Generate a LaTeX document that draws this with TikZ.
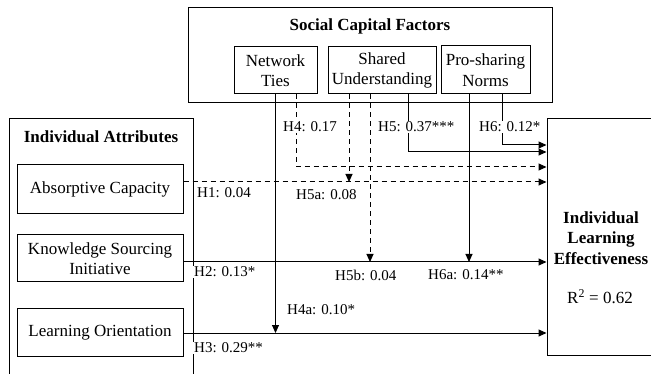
\documentclass[tikz,border=0pt]{standalone}
\usepackage{fontspec}
\setmainfont{Liberation Serif}
\usetikzlibrary{arrows.meta}
\newcommand\bodyfont{\fontsize{17}{20.5}\selectfont}
\newcommand\labfont{\fontsize{15}{18}\selectfont}
\tikzset{
  >={Triangle[length=8pt,width=7pt]},
  bx/.style={draw, line width=1pt, inner sep=0pt, align=center, font=\bodyfont},
  ttl/.style={inner sep=0pt, align=center, font=\bodyfont\bfseries},
  sol/.style={line width=1pt},
  dsh/.style={line width=1pt, dash pattern=on 5pt off 4pt},
  lab/.style={anchor=west, fill=white, inner sep=1pt, font=\labfont}
}
\begin{document}
\begin{tikzpicture}[x=1pt,y=-1pt]
\useasboundingbox (0,0) rectangle (651,374);
\clip (0,0) rectangle (651,374);
\fill[white] (0,0) rectangle (651,374);
% Social capital group
\node[bx, minimum width=364pt, minimum height=95pt] (sc) at (370,55.5) {};
\node[ttl] (sct) at (370,26) {Social Capital Factors};
\node[bx, minimum width=83pt, minimum height=47pt] (nt) at (275.5,70.5) {Network\\Ties};
\node[bx, minimum width=108pt, minimum height=47pt] (su) at (382,70.5) {Shared\\Understanding};
\node[bx, minimum width=89pt, minimum height=48pt] (ps) at (485.5,70) {Pro-sharing\\Norms};
% Individual attributes group
\node[bx, minimum width=184pt, minimum height=301pt] (ia) at (101,269.5) {};
\node[ttl] (iat) at (101,137) {Individual Attributes};
\node[bx, minimum width=166pt, minimum height=49pt] (ac) at (100,189.5) {Absorptive Capacity};
\node[bx, minimum width=166pt, minimum height=47pt] (ks) at (100,258.5) {Knowledge Sourcing\\Initiative};
\node[bx, minimum width=166pt, minimum height=47pt] (lo) at (100,332.5) {Learning Orientation};
% Outcome
\node[bx, minimum width=109pt, minimum height=236pt] (ile) at (601.5,237) {};
\node[ttl] (ilet) at (601,238) {Individual\\Learning\\Effectiveness};
\node[inner sep=0pt, font=\bodyfont] (r2) at (600,297) {R\textsuperscript{2} = 0.62};
% connectors
\draw[dsh,->] (ac.east |- 0,182) -- (ile.west |- 0,182);
\draw[sol,->] (ks.east |- 0,262) -- (ile.west |- 0,262);
\draw[sol,->] (lo.east |- 0,333) -- (ile.west |- 0,333);
\draw[sol,->] (nt.south) -- (nt.south |- 0,333);
\draw[dsh,->] (nt.south -| 296,0) |- (ile.west |- 0,167);
\draw[dsh,->] (su.south -| 349,0) -- (349,182);
\draw[dsh,->] (su.south -| 370,0) -- (370,262);
\draw[sol,->] (su.south -| 408,0) |- (ile.west |- 0,152);
\draw[sol,->] (ps.south -| 469,0) -- (469,262);
\draw[sol,->] (ps.south -| 502,0) |- (ile.west |- 0,145);
% labels
\node[lab] (l4) at (282,127) {H4: 0.17};
\node[lab] (l5) at (377,127) {H5: 0.37***};
\node[lab] (l6) at (478,127) {H6: 0.12*};
\node[lab] (l1) at (196,193) {H1: 0.04};
\node[lab] (l5a) at (295,195) {H5a: 0.08};
\node[lab] (l2) at (193,272) {H2: 0.13*};
\node[lab] (l5b) at (334,275) {H5b: 0.04};
\node[lab] (l6a) at (427,275) {H6a: 0.14**};
\node[lab] (l4a) at (286,310) {H4a: 0.10*};
\node[lab] (l3) at (193,348) {H3: 0.29**};
\end{tikzpicture}
\end{document}
